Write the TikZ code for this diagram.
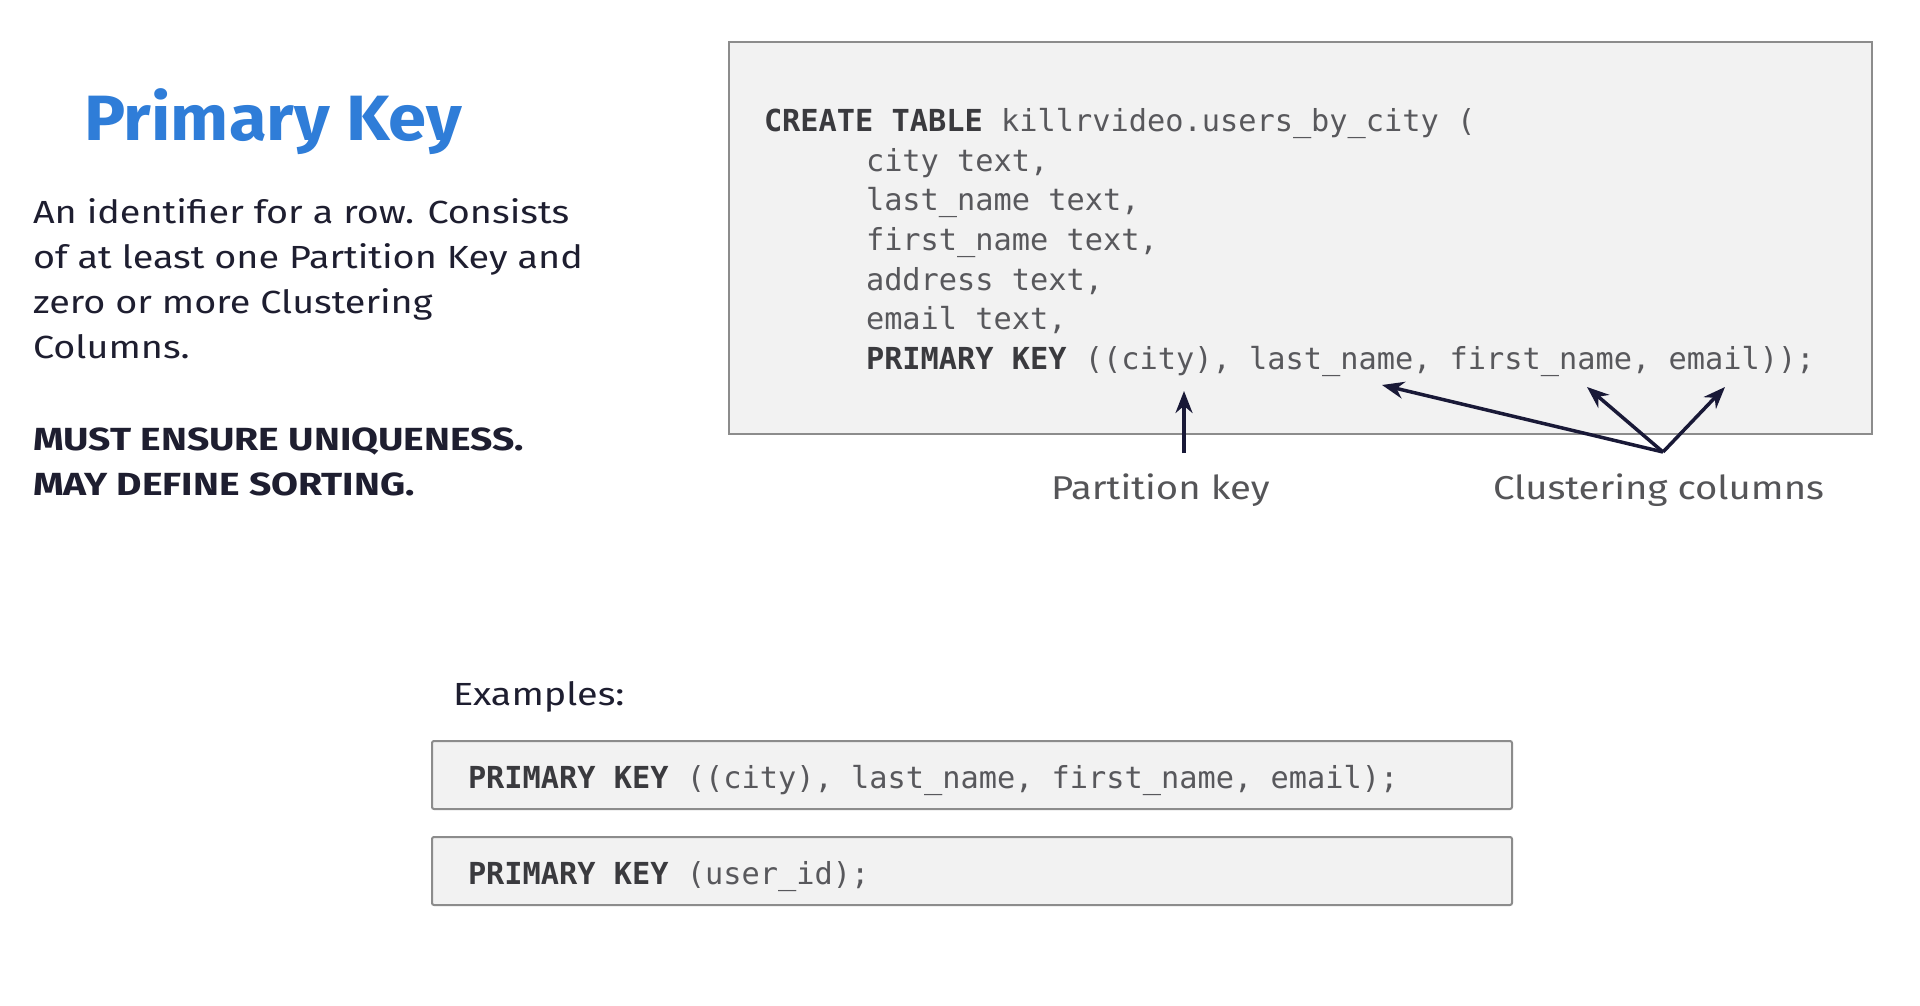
\documentclass[tikz,border=0pt]{standalone}
\usepackage{fontspec}
\setmainfont{Fira Sans}
\newfontfamily\titlefont[FakeStretch=1.075]{Fira Sans}
\newfontfamily\bodyfont[FakeStretch=1.18]{Fira Sans}
\newfontfamily\strongfont[FakeStretch=1.22]{Fira Sans}
\newfontfamily\labelfont[FakeStretch=1.16]{Fira Sans}
\newfontfamily\codefont{DejaVu Sans Mono}
\usetikzlibrary{arrows.meta}
\definecolor{titleblue}{RGB}{47,125,216}
\definecolor{bodytext}{RGB}{30,30,48}
\definecolor{labelgray}{RGB}{85,85,88}
\definecolor{codekw}{RGB}{58,58,62}
\definecolor{codetext}{RGB}{88,88,92}
\definecolor{boxfill}{HTML}{F2F2F2}
\definecolor{boxborder}{HTML}{8C8C8C}
\definecolor{arrowcol}{RGB}{25,25,55}
\tikzset{
  txt/.style={anchor=base west, inner sep=0pt, outer sep=0pt},
  titletxt/.style={txt, text=titleblue, font=\fontsize{64}{70}\titlefont\bfseries},
  bodytxt/.style={txt, text=bodytext, font=\fontsize{32}{45}\bodyfont},
  boldtxt/.style={txt, text=bodytext, font=\fontsize{32}{45}\strongfont\bfseries},
  labeltxt/.style={txt, text=labelgray, font=\fontsize{33}{40}\labelfont},
  codetxt/.style={txt, text=codetext, font=\fontsize{30.3}{39}\codefont},
  codebox/.style={draw=boxborder, fill=boxfill, line width=2pt},
  ptr/.style={draw=arrowcol, line width=3.5pt, -{Stealth[length=22pt,width=17pt]}},
}
\newcommand{\kw}[1]{{\bfseries\color{codekw}#1}}
\begin{document}
\begin{tikzpicture}[x=1pt,y=-1pt]
\useasboundingbox[fill=white] (0,0) rectangle (1920,1006);

% left column
\node[titletxt] (title) at (84,141) {Primary Key};
\node[bodytxt] (p1) at (33,223) {An identifier for a row. Consists};
\node[bodytxt] (p2) at (33,268) {of at least one Partition Key and};
\node[bodytxt] (p3) at (33,313) {zero or more Clustering};
\node[bodytxt] (p4) at (33,358) {Columns.};
\node[boldtxt] (b1) at (33,450) {MUST ENSURE UNIQUENESS.};
\node[boldtxt] (b2) at (33,495) {MAY DEFINE SORTING.};

% main code box
\draw[codebox] (729,42) rectangle (1872,434);
\node[codetxt] (c1) at (764,132) {\kw{CREATE TABLE} killrvideo.users\_by\_city (};
\node[codetxt] (c2) at (866,171.5) {city text,};
\node[codetxt] (c3) at (866,211) {last\_name text,};
\node[codetxt] (c4) at (866,250.5) {first\_name text,};
\node[codetxt] (c5) at (866,290) {address text,};
\node[codetxt] (c6) at (866,329.5) {email text,};
\node[codetxt] (c7) at (866,369) {\kw{PRIMARY KEY} ((city), last\_name, first\_name, email));};

% arrows
\coordinate (pkTail) at (1184,453);
\coordinate (pkTip) at (1184,391);
\coordinate (ccHub) at (1663,452);
\coordinate (ccTipA) at (1382,385);
\coordinate (ccTipB) at (1587,387);
\coordinate (ccTipC) at (1725,387);
\draw[ptr] (pkTail) -- (pkTip);
\draw[ptr] (ccHub) -- (ccTipA);
\draw[ptr] (ccHub) -- (ccTipB);
\draw[ptr] (ccHub) -- (ccTipC);

\node[labeltxt] (pklabel) at (1051,499) {Partition key};
\node[labeltxt] (cclabel) at (1493,499) {Clustering columns};

% examples
\node[bodytxt] (ex) at (453,705) {Examples:};
\draw[codebox, rounded corners=2pt] (432,741) rectangle (1512,809);
\node[codetxt] (e1) at (468,788) {\kw{PRIMARY KEY} ((city), last\_name, first\_name, email);};
\draw[codebox, rounded corners=2pt] (432,837) rectangle (1512,905);
\node[codetxt] (e2) at (468,884) {\kw{PRIMARY KEY} (user\_id);};
\end{tikzpicture}
\end{document}
